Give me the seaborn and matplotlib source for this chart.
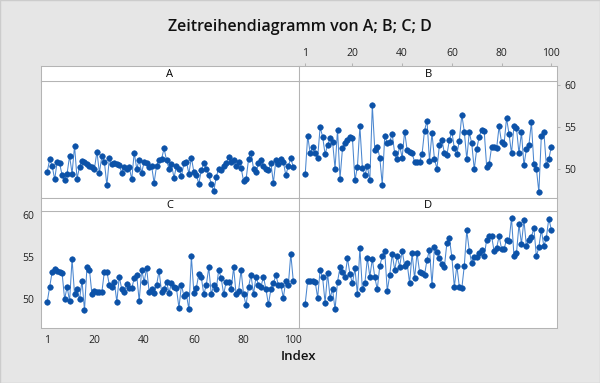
import numpy as np
import pandas as pd
import matplotlib
matplotlib.use('Agg')
import matplotlib.pyplot as plt
import seaborn as sns
from matplotlib.patches import Rectangle

# Werte (je 100 Beobachtungen)
serie_a = [49.7, 51.2, 50.4, 48.8, 50.9, 50.7, 49.3, 48.7, 49.5, 51.6,
           49.5, 52.8, 48.9, 50.3, 51.0, 50.9, 50.6, 50.4, 50.3, 50.1,
           52.1, 49.6, 51.6, 50.9, 48.1, 51.3, 50.6, 50.7, 50.6, 50.5,
           49.6, 50.3, 50.1, 50.3, 48.8, 52.0, 50.1, 51.1, 49.6, 50.9,
           50.7, 50.3, 50.4, 48.4, 50.4, 51.1, 51.2, 52.5, 51.1, 50.1,
           50.6, 49.0, 50.4, 50.1, 49.2, 50.7, 50.9, 49.5, 51.4, 49.7,
           49.3, 48.3, 49.9, 50.7, 50.1, 49.3, 48.3, 47.4, 49.1, 50.1,
           49.9, 50.4, 50.7, 51.5, 50.9, 51.1, 50.4, 50.9, 50.2, 48.6,
           48.8, 51.2, 52.0, 50.1, 49.7, 50.7, 51.1, 50.4, 50.1, 49.9,
           50.7, 48.4, 51.1, 50.6, 51.2, 50.9, 49.3, 50.4, 51.3, 50.3]
serie_b = [49.4, 54.0, 51.9, 52.6, 51.9, 51.4, 55.0, 53.9, 51.8, 52.9,
           53.7, 53.3, 50.1, 54.7, 48.9, 52.5, 53.1, 53.5, 53.9, 53.7,
           48.7, 50.3, 55.1, 50.2, 49.3, 50.4, 48.7, 57.6, 52.3, 52.7,
           51.4, 48.2, 54.0, 53.1, 53.3, 54.2, 51.9, 51.2, 52.8, 51.4,
           54.5, 52.3, 52.1, 51.9, 50.9, 50.9, 50.9, 51.8, 54.6, 55.8,
           51.0, 54.3, 51.2, 50.1, 52.9, 53.5, 51.9, 51.7, 53.5, 54.5,
           52.5, 51.8, 53.4, 56.5, 54.5, 51.2, 54.4, 53.1, 50.0, 52.4,
           53.9, 54.7, 54.6, 50.3, 50.6, 52.7, 52.6, 52.5, 55.1, 53.2,
           53.0, 56.1, 54.2, 51.9, 55.2, 54.9, 51.9, 54.4, 50.5, 52.4,
           52.9, 55.6, 50.6, 50.1, 47.3, 54.0, 54.5, 50.5, 51.2, 52.7]
serie_c = [49.7, 51.5, 53.3, 53.6, 53.4, 53.3, 53.1, 50.0, 51.5, 49.8,
           54.8, 50.6, 51.2, 50.0, 52.2, 48.7, 53.9, 53.5, 50.6, 51.0,
           50.9, 50.9, 50.9, 53.3, 53.3, 51.7, 51.5, 52.1, 49.7, 52.7,
           51.2, 50.9, 51.8, 51.3, 51.3, 52.5, 52.9, 49.8, 53.5, 52.1,
           53.7, 50.9, 51.2, 50.8, 51.7, 53.4, 50.9, 51.2, 52.1, 50.8,
           51.9, 51.5, 51.3, 49.0, 51.7, 50.4, 50.6, 48.8, 55.1, 50.8,
           51.4, 53.0, 52.6, 50.6, 51.7, 53.8, 50.6, 51.7, 51.2, 53.5,
           52.5, 50.6, 52.1, 52.1, 51.2, 53.8, 50.6, 51.0, 53.5, 50.6,
           49.3, 51.5, 52.9, 50.6, 52.7, 51.7, 51.5, 52.7, 51.2, 49.4,
           51.2, 51.9, 52.9, 51.7, 51.7, 50.2, 52.2, 51.7, 55.4, 52.2]
serie_d = [49.5, 52.2, 52.2, 52.2, 52.1, 50.2, 53.5, 52.6, 49.6, 53.1,
           50.2, 51.2, 48.8, 52.1, 53.8, 53.3, 52.6, 54.9, 53.0, 51.9,
           53.7, 50.6, 56.1, 51.2, 51.9, 54.9, 52.7, 54.8, 52.6, 51.2,
           54.0, 55.1, 55.7, 51.0, 52.9, 55.4, 53.5, 55.1, 53.9, 55.8,
           54.0, 54.3, 51.9, 55.5, 52.5, 55.5, 53.3, 53.1, 52.9, 54.7,
           55.9, 51.7, 56.2, 55.6, 54.9, 54.2, 53.9, 56.7, 57.3, 55.0,
           51.5, 54.0, 51.5, 51.3, 54.0, 58.2, 55.8, 54.3, 55.0, 55.0,
           55.5, 55.9, 55.1, 57.1, 57.5, 57.5, 55.7, 56.1, 57.5, 56.0,
           56.0, 57.1, 56.9, 59.7, 55.1, 55.5, 58.9, 56.6, 59.4, 56.3,
           57.1, 57.4, 58.5, 55.1, 56.2, 58.3, 56.3, 57.3, 59.6, 58.3]

namen = ['A', 'B', 'C', 'D']
index = list(range(1, 101))
x_ticks = [1, 20, 40, 60, 80, 100]
y_ticks = [50, 55, 60]

df = pd.DataFrame({
    'Index': index * 4,
    'Wert': serie_a + serie_b + serie_c + serie_d,
    'Serie': [n for n in namen for _ in index],
})

sns.set_style('white')
plt.rcParams['font.family'] = ['Open Sans', 'DejaVu Sans']

bg = '#e6e6e6'
rand = '#b4b4b4'
linie = '#4a86cf'
punkt = '#0c52a8'

fig = plt.figure(figsize=(6, 3.83), dpi=100, facecolor=bg)
fig.patches.append(Rectangle((0, 0), 1, 1, transform=fig.transFigure,
                             fill=False, edgecolor='#cccccc', lw=1))

W, H = 600, 383
breite = 258 / W
hoehe = 117 / H
lagen = {
    'A': (41 / W, (H - 198) / H, (H - 81) / H, 15 / H),
    'B': (299 / W, (H - 198) / H, (H - 81) / H, 15 / H),
    'C': (41 / W, (H - 328) / H, (H - 211) / H, 13 / H),
    'D': (299 / W, (H - 328) / H, (H - 211) / H, 13 / H),
}

for name in namen:
    x0, y0, ys, hs = lagen[name]
    ax = fig.add_axes([x0, y0, breite, hoehe])
    sub = df[df['Serie'] == name]
    sns.lineplot(data=sub, x='Index', y='Wert', ax=ax, color=linie, lw=0.75,
                 marker='o', markersize=4, markerfacecolor=punkt,
                 markeredgecolor=punkt, markeredgewidth=0.4)
    ax.set_xlim(-1.5, 102.3)
    ax.set_ylim(46.6, 60.5)
    ax.set_xlabel('')
    ax.set_ylabel('')
    ax.set_facecolor('white')
    for s in ax.spines.values():
        s.set_color(rand)
        s.set_linewidth(0.75)

    # Streifen mit dem Namen der Serie
    st = fig.add_axes([x0, ys, breite, hs])
    st.set_xlim(-1.5, 102.3)
    st.set_facecolor('white')
    st.set_yticks([])
    st.set_xticks([])
    for s in st.spines.values():
        s.set_color(rand)
        s.set_linewidth(0.75)
    st.text(0.5, 0.45, name, transform=st.transAxes, ha='center', va='center',
            fontsize=8, color='black')

    ax.tick_params(colors=rand, labelcolor='#222222', labelsize=7.5,
                   length=2.5, width=0.75, direction='out', pad=2.5)
    if name == 'B':
        ax.yaxis.tick_right()
        ax.set_yticks(y_ticks)
        ax.set_xticks([])
        st.xaxis.tick_top()
        st.set_xticks(x_ticks)
        st.tick_params(colors=rand, labelcolor='#222222', labelsize=7.5,
                       length=2.5, width=0.75, direction='out', pad=2.5)
    elif name == 'C':
        ax.set_yticks(y_ticks)
        ax.set_xticks(x_ticks)
    else:
        ax.set_xticks([])
        ax.set_yticks([])

fig.text(0.5, 1 - 27 / H, 'Zeitreihendiagramm von A; B; C; D', ha='center',
         va='center', fontsize=11.5, fontweight='semibold', color='#111111')
fig.text(299 / W, 1 - 357 / H, 'Index', ha='center', va='center',
         fontsize=9.5, fontweight='semibold', color='#111111')

fig.savefig('out.png', dpi=100, facecolor=bg)
